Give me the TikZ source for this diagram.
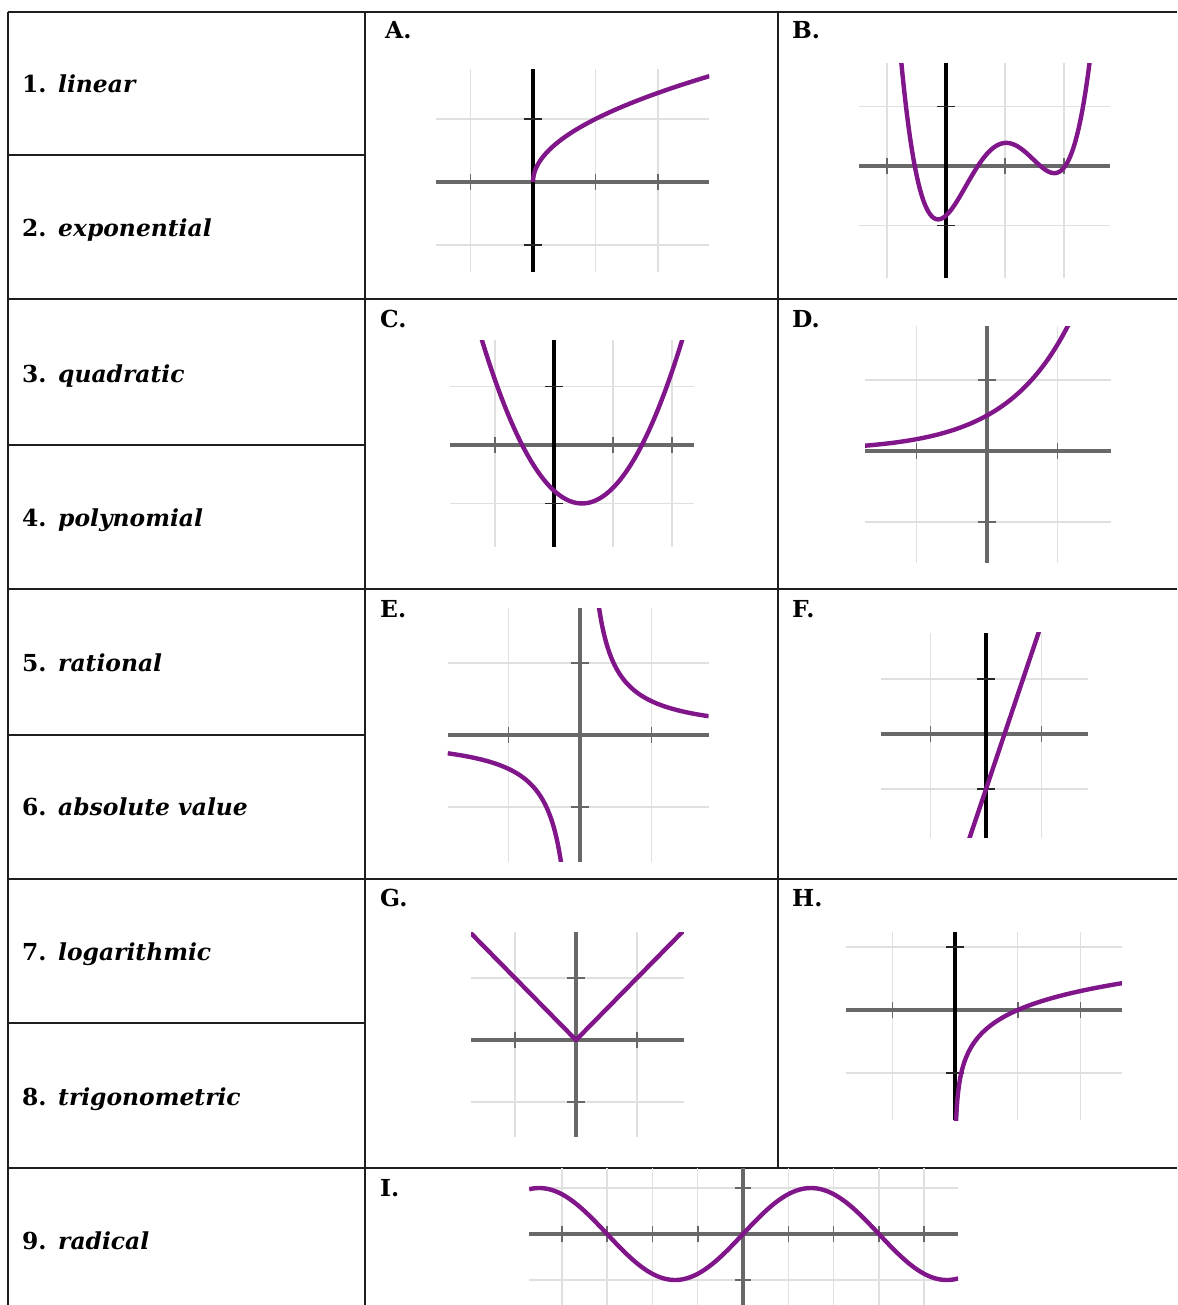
\documentclass[tikz,border=0pt]{standalone}
\usepackage{fontspec}
\setmainfont{DejaVu Serif}
\definecolor{curvec}{RGB}{128,22,138}
\definecolor{axg}{RGB}{104,104,104}
\definecolor{gridc}{RGB}{224,224,224}
\definecolor{tablec}{RGB}{30,30,30}
\tikzset{
  tbl/.style={draw=tablec, line width=2.2pt},
  lab/.style={inner sep=0pt, anchor=base west, font=\fontsize{23.4}{28}\selectfont\bfseries},
  gridl/.style={draw=gridc, line width=1.5pt},
  xaxis/.style={draw=axg, line width=4.5pt},
  yaxisk/.style={draw=black, line width=4.5pt},
  yaxisg/.style={draw=axg, line width=4.5pt},
  xtck/.style={draw=axg, line width=1.6pt},
  ytckk/.style={draw=black!85, line width=1.8pt},
  ytckg/.style={draw=axg, line width=1.8pt},
  curve/.style={draw=curvec, line width=4.4pt, line join=round}
}
\begin{document}
\begin{tikzpicture}[x=1pt,y=-1pt]
\useasboundingbox (0,0) rectangle (1177,1305);
\fill[white] (0,0) rectangle (1177,1305);

% ---------- table ----------
\draw[tbl] (8,12) -- (1177,12);
\draw[tbl] (8,12) -- (8,1305);
\draw[tbl] (365,12) -- (365,1305);
\draw[tbl] (778,12) -- (778,1168);
\foreach \yy in {155,445,735,1023} {\draw[tbl] (8,\yy) -- (365,\yy);}
\foreach \yy in {299,589,879,1168} {\draw[tbl] (8,\yy) -- (1177,\yy);}

% ---------- left labels ----------
\node[lab] (n1) at (22,93) {1.};   \node[lab] (w1) at (58,93) {\itshape linear};
\node[lab] (n2) at (22,237) {2.};  \node[lab] (w2) at (58,237) {\itshape exponential};
\node[lab] (n3) at (22,382) {3.};  \node[lab] (w3) at (58,382) {\itshape quadratic};
\node[lab] (n4) at (22,526) {4.};  \node[lab] (w4) at (58,526) {\itshape polynomial};
\node[lab] (n5) at (22,671) {5.};  \node[lab] (w5) at (58,671) {\itshape rational};
\node[lab] (n6) at (22,815) {6.};  \node[lab] (w6) at (58,815) {\itshape absolute value};
\node[lab] (n7) at (22,960) {7.};  \node[lab] (w7) at (58,960) {\itshape logarithmic};
\node[lab] (n8) at (22,1105) {8.}; \node[lab] (w8) at (58,1105) {\itshape trigonometric};
\node[lab] (n9) at (22,1249) {9.}; \node[lab] (w9) at (58,1249) {\itshape radical};

% ---------- letter labels ----------
\node[lab] (la) at (385,39) {A.};
\node[lab] (lb) at (792,39) {B.};
\node[lab] (lc) at (380,327) {C.};
\node[lab] (ld) at (792,327) {D.};
\node[lab] (le) at (380,617) {E.};
\node[lab] (lf) at (792,617) {F.};
\node[lab] (lg) at (380,906) {G.};
\node[lab] (lh) at (792,906) {H.};
\node[lab] (li) at (380,1196) {I.};

% ---------- A: square root ----------
\begin{scope}[shift={(533,182)}, x=62.5pt, y=63pt]
  \draw[gridl] foreach \u in {-1,1,2} {(\u,-1.43) -- (\u,1.79)} foreach \v in {-1,1} {(-1.55,\v) -- (2.82,\v)};
  \draw[xaxis] (-1.55,0) -- (2.82,0);
  \draw[xtck] foreach \u in {-1,0,1,2} {(\u,0) ++(0,-8pt) -- ++(0,16pt)};
  \draw[yaxisk] (0,-1.43) -- (0,1.79);
  \draw[ytckk] foreach \v in {-1,1} {(0,\v) ++(-9pt,0) -- ++(18pt,0)};
  \begin{scope}
    \clip (-1.55,-1.43) rectangle (2.82,1.79);
    \draw[curve] plot[domain=0:1.68, samples=60, variable=\t] ({\t*\t},{\t});
  \end{scope}
\end{scope}

% ---------- B: polynomial ----------
\begin{scope}[shift={(946,166)}, x=59pt, y=59.5pt]
  \draw[gridl] foreach \u in {-1,1,2} {(\u,-1.88) -- (\u,1.73)} foreach \v in {-1,1} {(-1.47,\v) -- (2.78,\v)};
  \draw[xaxis] (-1.47,0) -- (2.78,0);
  \draw[xtck] foreach \u in {-1,0,1,2} {(\u,0) ++(0,-8pt) -- ++(0,16pt)};
  \draw[yaxisk] (0,-1.88) -- (0,1.73);
  \draw[ytckk] foreach \v in {-1,1} {(0,\v) ++(-9pt,0) -- ++(18pt,0)};
  \begin{scope}
    \clip (-1.47,-1.88) rectangle (2.78,1.73);
    \draw[curve] plot[domain=-0.8:2.5, samples=120] (\x,{0.9*(\x+0.53)*(\x-0.54)*(\x-1.6)*(\x-2.02)});
  \end{scope}
\end{scope}

% ---------- C: quadratic ----------
\begin{scope}[shift={(554,445)}, x=59pt, y=58.5pt]
  \draw[gridl] foreach \u in {-1,1,2} {(\u,-1.74) -- (\u,1.79)} foreach \v in {-1,1} {(-1.76,\v) -- (2.37,\v)};
  \draw[xaxis] (-1.76,0) -- (2.37,0);
  \draw[xtck] foreach \u in {-1,0,1,2} {(\u,0) ++(0,-8pt) -- ++(0,16pt)};
  \draw[yaxisk] (0,-1.74) -- (0,1.79);
  \draw[ytckk] foreach \v in {-1,1} {(0,\v) ++(-9pt,0) -- ++(18pt,0)};
  \begin{scope}
    \clip (-1.76,-1.74) rectangle (2.37,1.79);
    \draw[curve] plot[domain=-1.3:2.3, samples=80] (\x,{0.97*(\x+0.54)*(\x-1.49)});
  \end{scope}
\end{scope}

% ---------- D: exponential ----------
\begin{scope}[shift={(987,451)}, x=70.5pt, y=71pt]
  \draw[gridl] foreach \u in {-1,1} {(\u,-1.58) -- (\u,1.76)} foreach \v in {-1,1} {(-1.73,\v) -- (1.76,\v)};
  \draw[xaxis] (-1.73,0) -- (1.76,0);
  \draw[xtck] foreach \u in {-1,0,1} {(\u,0) ++(0,-8pt) -- ++(0,16pt)};
  \draw[yaxisg] (0,-1.58) -- (0,1.76);
  \draw[ytckg] foreach \v in {-1,1} {(0,\v) ++(-9pt,0) -- ++(18pt,0)};
  \begin{scope}
    \clip (-1.73,-1.58) rectangle (1.76,1.76);
    \draw[curve] plot[domain=-1.73:1.2, samples=80] (\x,{0.5*pow(3,\x)});
  \end{scope}
\end{scope}

% ---------- E: rational ----------
\begin{scope}[shift={(580,735)}, x=71.5pt, y=72pt]
  \draw[gridl] foreach \u in {-1,1} {(\u,-1.76) -- (\u,1.76)} foreach \v in {-1,1} {(-1.85,\v) -- (1.8,\v)};
  \draw[xaxis] (-1.85,0) -- (1.8,0);
  \draw[xtck] foreach \u in {-1,0,1} {(\u,0) ++(0,-8pt) -- ++(0,16pt)};
  \draw[yaxisg] (0,-1.76) -- (0,1.76);
  \draw[ytckg] foreach \v in {-1,1} {(0,\v) ++(-9pt,0) -- ++(18pt,0)};
  \begin{scope}
    \clip (-1.85,-1.76) rectangle (1.8,1.76);
    \draw[curve] plot[domain=0.25:1.8, samples=80] (\x,{0.47/\x});
    \draw[curve] plot[domain=-1.85:-0.25, samples=80] (\x,{0.47/\x});
  \end{scope}
\end{scope}

% ---------- F: linear ----------
\begin{scope}[shift={(986,734)}, x=55.5pt, y=55pt]
  \draw[gridl] foreach \u in {-1,1} {(\u,-1.89) -- (\u,1.84)} foreach \v in {-1,1} {(-1.89,\v) -- (1.84,\v)};
  \draw[xaxis, line width=3.5pt] (-1.89,0) -- (1.84,0);
  \draw[xtck] foreach \u in {-1,0,1} {(\u,0) ++(0,-8pt) -- ++(0,16pt)};
  \draw[yaxisk] (0,-1.89) -- (0,1.84);
  \draw[ytckk] foreach \v in {-1,1} {(0,\v) ++(-9pt,0) -- ++(18pt,0)};
  \begin{scope}
    \clip (-1.89,-1.89) rectangle (1.84,1.84);
    \draw[curve] (-0.32,-1.96) -- (0.97,1.91);
  \end{scope}
\end{scope}

% ---------- G: absolute value ----------
\begin{scope}[shift={(576,1040)}, x=61pt, y=62pt]
  \draw[gridl] foreach \u in {-1,1} {(\u,-1.56) -- (\u,1.74)} foreach \v in {-1,1} {(-1.72,\v) -- (1.77,\v)};
  \draw[xaxis] (-1.72,0) -- (1.77,0);
  \draw[xtck] foreach \u in {-1,0,1} {(\u,0) ++(0,-8pt) -- ++(0,16pt)};
  \draw[yaxisg, line width=3.5pt] (0,-1.56) -- (0,1.74);
  \draw[ytckg] foreach \v in {-1,1} {(0,\v) ++(-9pt,0) -- ++(18pt,0)};
  \begin{scope}
    \clip (-1.72,-1.56) rectangle (1.77,1.74);
    \draw[curve] (-1.8,1.8) -- (0,0) -- (1.8,1.8);
  \end{scope}
\end{scope}

% ---------- H: logarithmic ----------
\begin{scope}[shift={(955,1010)}, x=62.7pt, y=63pt]
  \draw[gridl] foreach \u in {-1,1,2} {(\u,-1.75) -- (\u,1.24)} foreach \v in {-1,1} {(-1.74,\v) -- (2.66,\v)};
  \draw[xaxis] (-1.74,0) -- (2.66,0);
  \draw[xtck] foreach \u in {-1,0,1,2} {(\u,0) ++(0,-8pt) -- ++(0,16pt)};
  \draw[yaxisk] (0,-1.75) -- (0,1.24);
  \draw[ytckk] foreach \v in {-1,1} {(0,\v) ++(-9pt,0) -- ++(18pt,0)};
  \begin{scope}
    \clip (-1.74,-1.75) rectangle (2.66,1.24);
    \draw[curve] plot[domain=-1.8:0.43, samples=100, variable=\t] ({pow(10,\t)},{\t});
  \end{scope}
\end{scope}

% ---------- I: trigonometric ----------
\begin{scope}[shift={(743,1234)}, x=45.3pt, y=46pt]
  \draw[gridl] foreach \u in {-4,-3,-2,-1,1,2,3,4} {(\u,-1.6) -- (\u,1.43)} foreach \v in {-1,1} {(-4.72,\v) -- (4.75,\v)};
  \draw[xaxis, line width=3.5pt] (-4.72,0) -- (4.75,0);
  \draw[xtck] foreach \u in {-4,-3,-2,-1,0,1,2,3,4} {(\u,0) ++(0,-8pt) -- ++(0,16pt)};
  \draw[yaxisg, line width=3.5pt] (0,-1.6) -- (0,1.43);
  \draw[ytckg] foreach \v in {-1,1} {(0,\v) ++(-8pt,0) -- ++(16pt,0)};
  \begin{scope}
    \clip (-4.72,-1.6) rectangle (4.75,1.43);
    \draw[curve] plot[domain=-4.72:4.75, samples=150] (\x,{sin(60*\x)});
  \end{scope}
\end{scope}
\end{tikzpicture}
\end{document}
